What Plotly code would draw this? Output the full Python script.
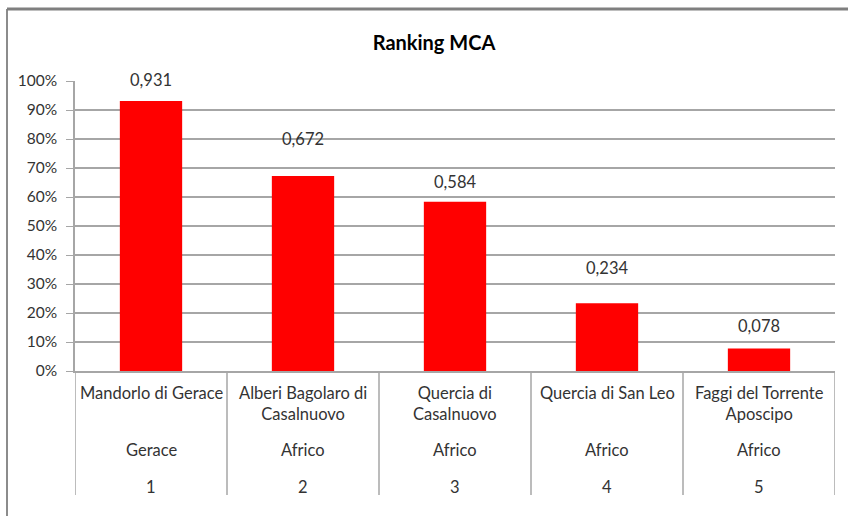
import plotly.graph_objects as go

names = ["Mandorlo di Gerace", "Alberi Bagolaro di<br>Casalnuovo", "Quercia di<br>Casalnuovo",
         "Quercia di San Leo", "Faggi del Torrente<br>Aposcipo"]
towns = ["Gerace", "Africo", "Africo", "Africo", "Africo"]
ranks = ["1", "2", "3", "4", "5"]
values = [0.931, 0.672, 0.584, 0.234, 0.078]
value_labels = ["0,931", "0,672", "0,584", "0,234", "0,078"]
label_shift = [21, 37, 20, 35, 22]

FONT = "Lato"
TXT = "#333333"
FS = 16.5
idx = list(range(len(values)))

fig = go.Figure()
fig.add_trace(go.Bar(x=idx, y=values, width=0.41, marker=dict(color="#ff0000", line=dict(width=0)),
                     hoverinfo="skip"))

ann = []
for i in idx:
    ann.append(dict(x=i, y=values[i], xref="x", yref="y", text=value_labels[i], showarrow=False,
                    yanchor="middle", yshift=label_shift[i], font=dict(family=FONT, size=FS, color=TXT)))
    ann.append(dict(x=i, y=0, xref="x", yref="paper", text=names[i], showarrow=False,
                    yanchor="top", yshift=-10, font=dict(family=FONT, size=FS, color=TXT)))
    ann.append(dict(x=i, y=0, xref="x", yref="paper", text=towns[i], showarrow=False,
                    yanchor="middle", yshift=-79, font=dict(family=FONT, size=FS, color=TXT)))
    ann.append(dict(x=i, y=0, xref="x", yref="paper", text=ranks[i], showarrow=False,
                    yanchor="middle", yshift=-116, font=dict(family=FONT, size=FS, color=TXT)))

shapes = []
for i in range(len(values) + 1):
    shapes.append(dict(type="line", xref="x", yref="paper", x0=i - 0.5, x1=i - 0.5, y0=0, y1=-124 / 290,
                       line=dict(color="#a6a6a6", width=1.5)))
# outer chart border (left and top)
shapes.append(dict(type="line", xref="paper", yref="paper", x0=-68 / 760, x1=-68 / 760, y0=1.248, y1=-0.6,
                   line=dict(color="#8c8c8c", width=2)))
shapes.append(dict(type="line", xref="paper", yref="paper", x0=-68 / 760, x1=1.1, y0=1.248, y1=1.248,
                   line=dict(color="#7f7f7f", width=3)))

fig.update_layout(
    width=848, height=516,
    margin=dict(l=75, r=13, t=81, b=145),
    paper_bgcolor="white", plot_bgcolor="white",
    showlegend=False,
    title=dict(text="<b>Ranking MCA</b>", x=434 / 848, xanchor="center", y=1 - 43 / 516, yanchor="middle",
               font=dict(family=FONT, size=20, color="#000000")),
    xaxis=dict(range=[-0.5, 4.5], showticklabels=False, showgrid=False, zeroline=False,
               showline=True, linecolor="#a6a6a6", linewidth=1.5, ticks=""),
    yaxis=dict(range=[0, 1], dtick=0.1, tickformat=".0%", showgrid=True, gridcolor="#a6a6a6", gridwidth=1.5,
               showline=True, linecolor="#a6a6a6", linewidth=1.5, ticks="outside", ticklen=7,
               tickcolor="#a6a6a6", zeroline=False, ticklabelstandoff=6,
               tickfont=dict(family=FONT, size=15.5, color=TXT)),
    annotations=ann, shapes=shapes,
)

fig.write_html("out.html")
